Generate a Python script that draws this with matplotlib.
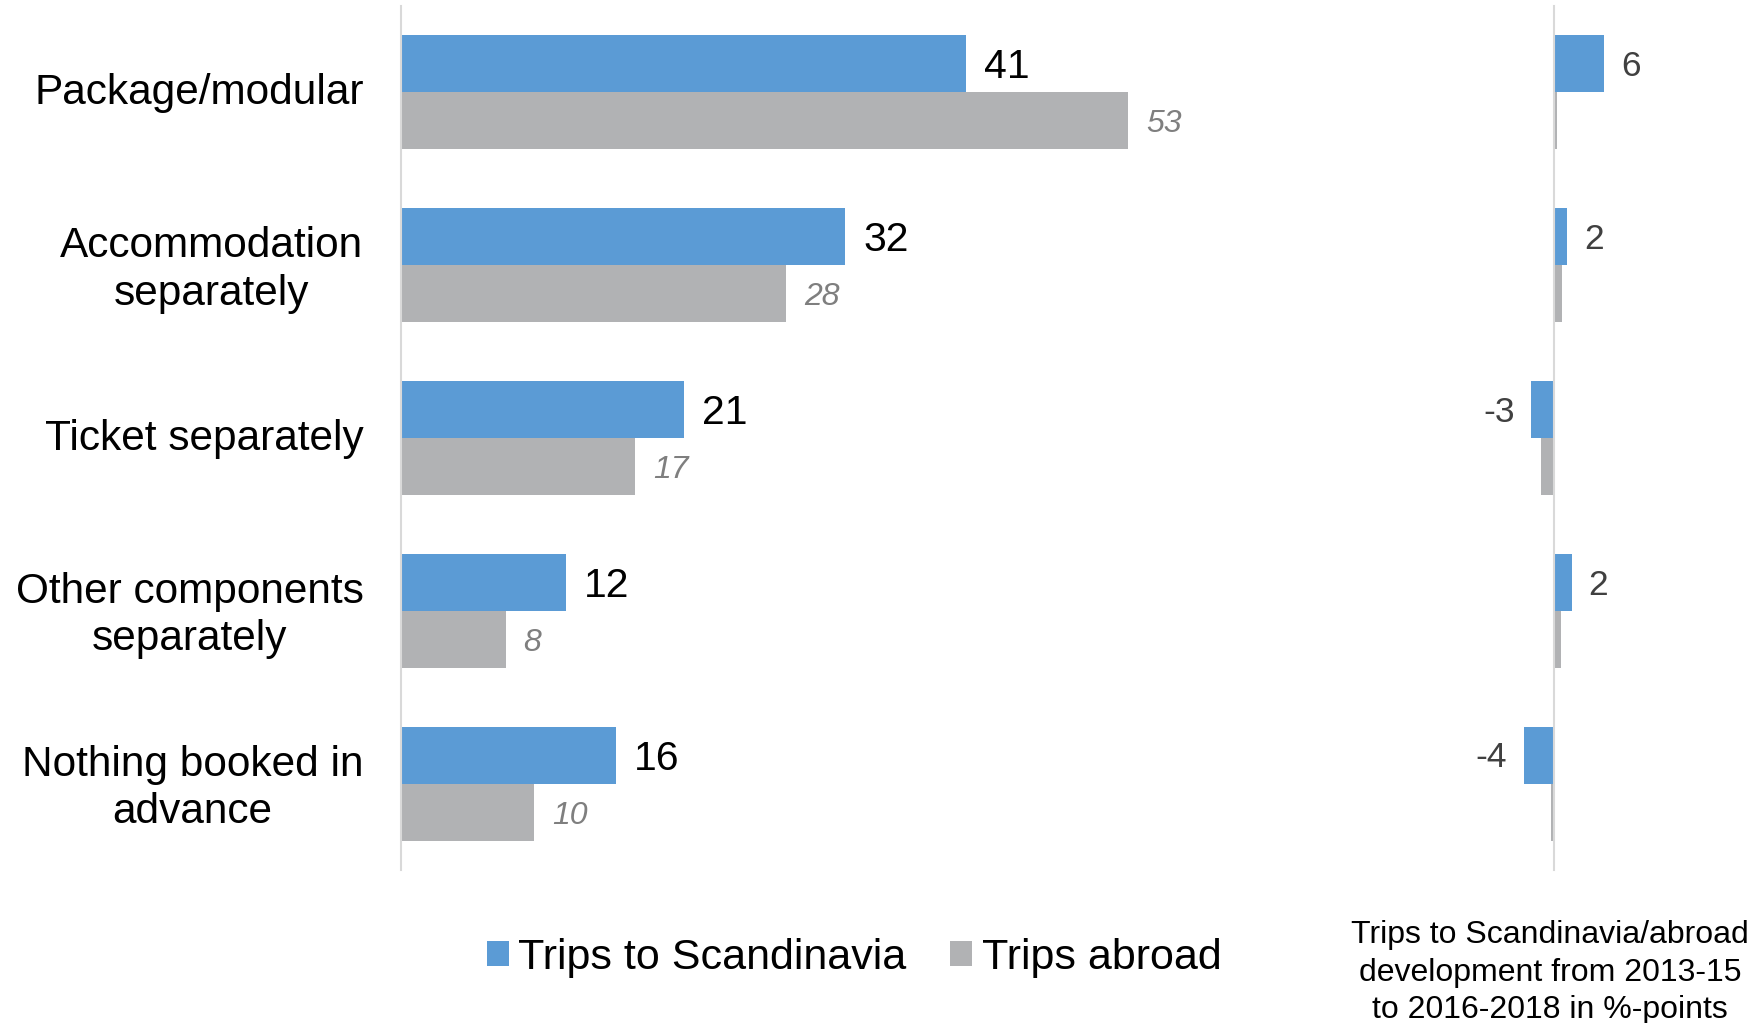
import matplotlib
matplotlib.use("Agg")
import matplotlib.pyplot as plt
import matplotlib.transforms as mtransforms
import numpy as np

plt.rcParams['font.family'] = ['Liberation Sans', 'DejaVu Sans']

categories = ['Package/modular', 'Accommodation\nseparately', 'Ticket separately',
              'Other components\nseparately', 'Nothing booked in\nadvance']
scandinavia = [41.1, 32.3, 20.6, 12.0, 15.6]
abroad = [52.9, 28.0, 17.0, 7.6, 9.7]
# change in %-points, 2013-15 -> 2016-2018
dev_scandinavia = [6.0, 1.6, -2.7, 2.1, -3.6]
dev_abroad = [0.4, 1.0, -1.6, 0.8, -0.3]

blue = '#5B9BD5'
grey = '#B1B2B4'
line_col = '#D9D9D9'

W, H = 1754, 1023
fig = plt.figure(figsize=(W / 100, H / 100), dpi=100)

bottom = 1 - 870 / H
top = 1 - 6 / H
y = np.arange(len(categories))
bh = 0.33

# main panel
x0 = 401
ppu = 13.75
xmax = 58
ax = fig.add_axes([x0 / W, bottom, xmax * ppu / W, top - bottom])
ax.barh(y - bh / 2, scandinavia, height=bh, color=blue, label='Trips to Scandinavia')
ax.barh(y + bh / 2, abroad, height=bh, color=grey, label='Trips abroad')
ax.set_xlim(0, xmax)
ax.set_ylim(len(categories) - 0.5, -0.5)
for s in ['top', 'right', 'bottom']:
    ax.spines[s].set_visible(False)
ax.spines['left'].set_color(line_col)
ax.spines['left'].set_linewidth(1.5)
ax.set_xticks([])
ax.set_yticks(y)
ax.set_yticklabels(categories, fontsize=30.5, multialignment='center', linespacing=1.24)
ax.tick_params(axis='y', length=0, pad=27)
shift = mtransforms.ScaledTranslation(0, 0.035, fig.dpi_scale_trans)
for lab in ax.get_yticklabels():
    lab.set_transform(lab.get_transform() + shift)

for i in range(len(categories)):
    ax.annotate('%d' % round(scandinavia[i]), (scandinavia[i], y[i] - bh / 2), xytext=(13, -2.5),
                textcoords='offset points', va='center', ha='left', fontsize=29.5, color='black')
    ax.annotate('%d' % round(abroad[i]), (abroad[i], y[i] + bh / 2), xytext=(13, -2.5),
                textcoords='offset points', va='center', ha='left', fontsize=23,
                color='#7F7F7F', style='italic')

# development panel
zero2 = 1554
ppu2 = 8.39
lim2 = 8
ax2 = fig.add_axes([(zero2 - lim2 * ppu2) / W, bottom, 2 * lim2 * ppu2 / W, top - bottom])
ax2.barh(y - bh / 2, dev_scandinavia, height=bh, color=blue)
ax2.barh(y + bh / 2, dev_abroad, height=bh, color=grey)
ax2.set_xlim(-lim2, lim2)
ax2.set_ylim(len(categories) - 0.5, -0.5)
for s in ['top', 'right', 'bottom']:
    ax2.spines[s].set_visible(False)
ax2.spines['left'].set_position(('data', 0))
ax2.spines['left'].set_color(line_col)
ax2.spines['left'].set_linewidth(1.5)
ax2.set_xticks([])
ax2.set_yticks([])
for i in range(len(categories)):
    v = dev_scandinavia[i]
    ax2.annotate('%d' % round(v), (v, y[i] - bh / 2), xytext=(12 if v > 0 else -12, -2),
                 textcoords='offset points', va='center', ha='left' if v > 0 else 'right',
                 fontsize=25.5, color='#404040', annotation_clip=False)

fig.text(1550 / W, 1 - 972.5 / H,
         'Trips to Scandinavia/abroad\ndevelopment from 2013-15\nto 2016-2018 in %-points',
         ha='center', va='center', fontsize=23, linespacing=1.33, color='black')

fig.legend(loc='center', bbox_to_anchor=(854 / W, 1 - 958 / H), ncol=2, frameon=False,
           fontsize=31, handlelength=0.52, handleheight=0.52, handletextpad=0.22,
           columnspacing=1.0, borderpad=0)

fig.savefig('out.png', dpi=100)
